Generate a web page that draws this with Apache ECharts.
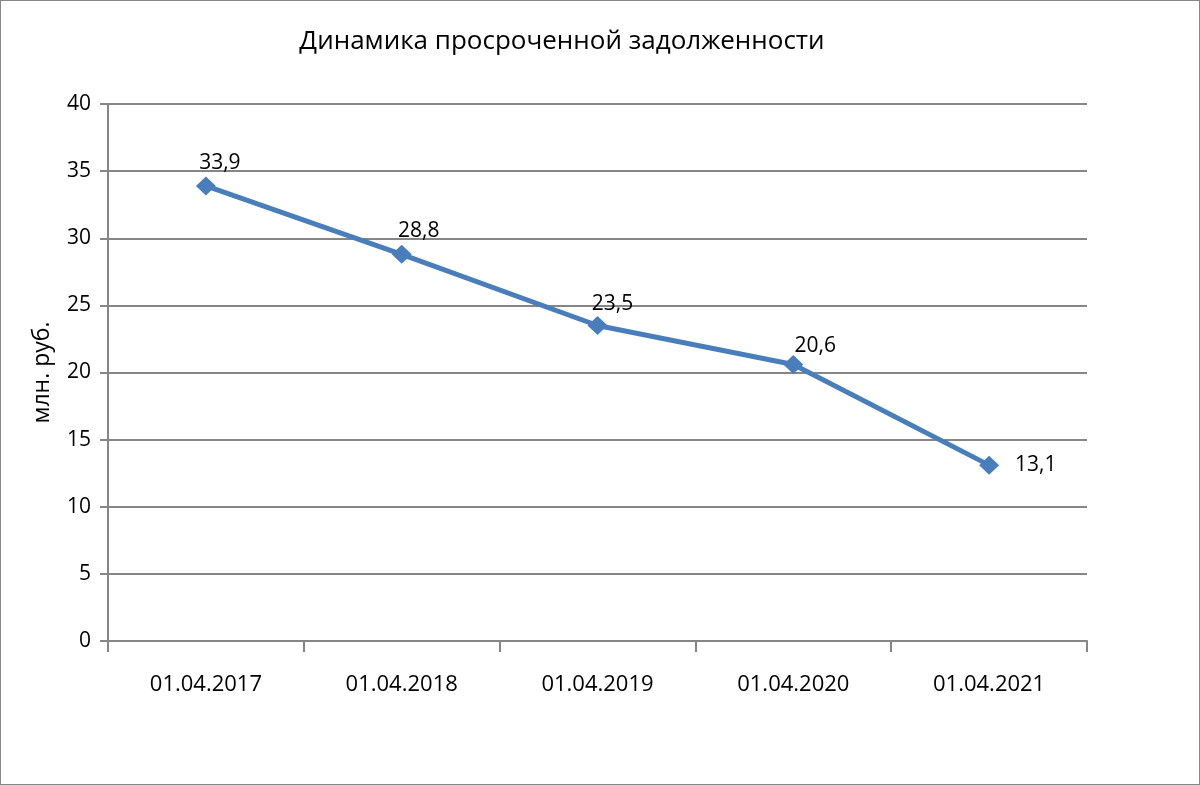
<!DOCTYPE html>
<html>
<head>
<meta charset="utf-8">
<script src="https://cdn.jsdelivr.net/npm/echarts@6/dist/echarts.min.js"></script>
<style>
  html, body { margin: 0; padding: 0; background: #fff; }
  #chart { width: 1198px; height: 783px; border: 1px solid #868686; }
</style>
</head>
<body>
<div id="chart"></div>
<script>
// данные
var categories = ['01.04.2017', '01.04.2018', '01.04.2019', '01.04.2020', '01.04.2021'];
var values = [33.9, 28.8, 23.5, 20.6, 13.1];
var yTicks = [0, 5, 10, 15, 20, 25, 30, 35, 40];

// подписи точек - смещения (только оформление)
var labelStyles = [
  { position: 'top', offset: [14, 2] },
  { position: 'top', offset: [17, 2] },
  { position: 'top', offset: [15, 4] },
  { position: 'top', offset: [22, 7] },
  { position: 'right', distance: 16 }
];

var seriesData = values.map(function (v, i) {
  return { value: v, label: labelStyles[i] };
});

var myChart = echarts.init(document.getElementById('chart'));
var font = '"Open Sans", "Liberation Sans", sans-serif';

var option = {
  animation: false,
  title: {
    text: 'Динамика просроченной задолженности',
    left: 556,
    top: 23,
    textAlign: 'center',
    textStyle: { fontFamily: font, fontSize: 26, fontWeight: 'normal', color: '#000' }
  },
  grid: { left: 107, right: 112, top: 103, bottom: 143 },
  xAxis: {
    type: 'category',
    data: categories,
    boundaryGap: true,
    axisLine: { lineStyle: { color: '#868686', width: 2 } },
    axisTick: { show: true, length: 11, lineStyle: { color: '#868686', width: 2 } },
    axisLabel: { color: '#000', fontFamily: font, fontSize: 22, margin: 33 },
    splitLine: { show: false }
  },
  yAxis: {
    type: 'value',
    min: yTicks[0],
    max: yTicks[yTicks.length - 1],
    interval: yTicks[1] - yTicks[0],
    name: 'млн. руб.',
    nameLocation: 'middle',
    nameGap: 54,
    nameTextStyle: { color: '#000', fontFamily: font, fontSize: 23 },
    axisLine: { show: true, lineStyle: { color: '#868686', width: 2 } },
    axisTick: { show: true, length: 8, lineStyle: { color: '#868686', width: 2 } },
    axisLabel: { color: '#000', fontFamily: font, fontSize: 21, margin: 17 },
    splitLine: { lineStyle: { color: '#868686', width: 2 } }
  },
  series: [{
    type: 'line',
    data: seriesData,
    symbol: 'diamond',
    symbolSize: [20, 19],
    lineStyle: { color: '#4a7ebb', width: 5 },
    itemStyle: { color: '#4a7ebb' },
    label: {
      show: true,
      color: '#000',
      fontFamily: font,
      fontSize: 21,
      formatter: function (p) { return String(p.value).replace('.', ','); }
    }
  }]
};

myChart.setOption(option);
window.onresize = myChart.resize;
</script>
</body>
</html>
